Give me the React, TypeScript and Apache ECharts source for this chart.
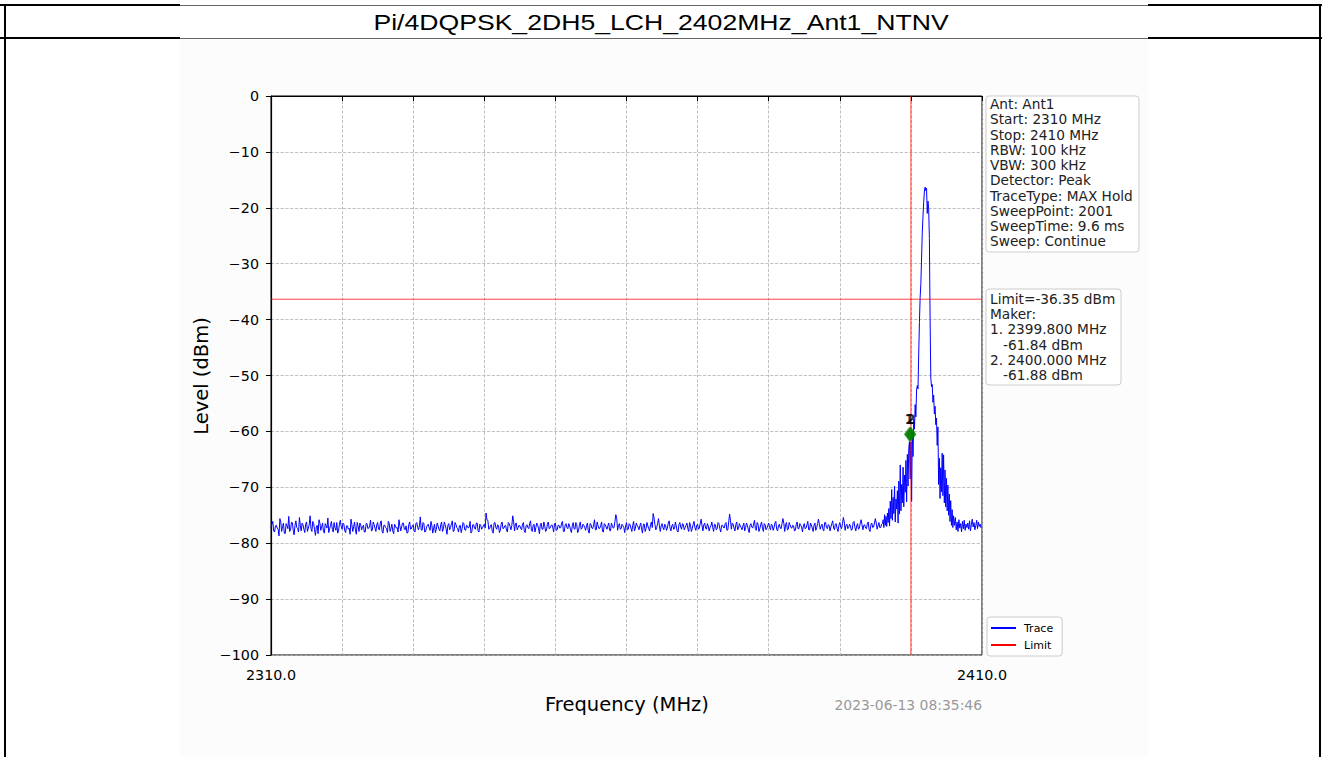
import React, { useEffect, useRef } from 'react';
import * as echarts from 'echarts';

// ---------- texts ----------
const titleText = 'Pi/4DQPSK_2DH5_LCH_2402MHz_Ant1_NTNV';
const xAxisTitle = 'Frequency (MHz)';
const yAxisTitle = 'Level (dBm)';
const timestampText = '2023-06-13 08:35:46';
const infoLines = [
  'Ant: Ant1',
  'Start: 2310 MHz',
  'Stop: 2410 MHz',
  'RBW: 100 kHz',
  'VBW: 300 kHz',
  'Detector: Peak',
  'TraceType: MAX Hold',
  'SweepPoint: 2001',
  'SweepTime: 9.6 ms',
  'Sweep: Continue',
];
const makerLines = [
  'Limit=-36.35 dBm',
  'Maker:',
  '1. 2399.800 MHz',
  '\u00a0\u00a0\u00a0-61.84 dBm',
  '2. 2400.000 MHz',
  '\u00a0\u00a0\u00a0-61.88 dBm',
];
const legendNames = ['Trace', 'Limit'];

// ---------- axes ----------
const xMin = 2310;
const xMax = 2410;
const xInterval = 10;
const xLabelsShown = [2310, 2410];
const yMin = -100;
const yMax = 0;
const yInterval = 10;

// ---------- trace ----------
const noiseStart = 2310;
const noiseStep = 0.25;
const noiseLevels = [
  -77.2, -76.1, -78.0, -76.8, -77.5, -75.6, -77.9, -76.4, -78.3, -76.9, -75.2, -77.6, -76.3, -78.5, -76.0, -77.4, -75.4, -77.8, -76.7, -78.1,
  -76.2, -77.3, -75.1, -77.9, -76.5, -78.6, -76.8, -75.8, -77.7, -76.4, -78.2, -76.9, -75.5, -77.4, -76.1, -78.0, -77.2, -76.3, -77.8, -75.9,
  -77.5, -76.6, -78.1, -76.9, -77.3, -75.7, -77.9, -76.2, -78.4, -77.0, -76.4, -77.6, -76.8, -78.0, -76.5, -77.3, -75.9, -77.7, -76.7, -77.9,
  -76.3, -77.6, -76.0, -78.2, -76.8, -77.4, -76.1, -77.9, -76.6, -78.3, -76.9, -77.2, -75.8, -77.8, -76.4, -77.5, -76.9, -78.1, -76.2, -77.4,
  -76.7, -78.0, -76.3, -77.6, -75.3, -77.7, -76.5, -77.9, -76.8, -77.3, -76.1, -78.2, -76.6, -77.5, -76.9, -77.8, -76.2, -77.4, -76.7, -78.4,
  -76.5, -77.2, -76.0, -77.8, -76.6, -77.4, -76.9, -78.1, -76.3, -77.6, -76.8, -77.3, -76.1, -77.9, -76.7, -77.5, -76.4, -78.0, -76.8, -77.2,
  -76.6, -74.6, -75.9, -77.4, -76.7, -78.2, -76.3, -77.5, -76.9, -77.7, -76.2, -77.3, -76.8, -78.0, -76.5, -77.6, -75.1, -77.8, -76.4, -77.2,
  -76.9, -77.6, -76.3, -78.1, -76.7, -77.4, -76.0, -77.9, -76.6, -77.2, -76.8, -78.3, -76.4, -77.5, -76.9, -77.7, -76.2, -77.3, -76.7, -78.0,
  -76.4, -77.6, -76.8, -77.2, -76.1, -77.9, -76.5, -77.4, -76.9, -78.1, -76.3, -77.5, -76.7, -77.8, -76.2, -77.3, -76.8, -77.7, -76.4, -78.2,
  -76.6, -77.4, -75.8, -77.6, -76.9, -77.3, -76.2, -78.0, -76.7, -77.5, -76.4, -77.8, -76.8, -77.2, -74.9, -77.7, -76.5, -77.4, -76.9, -78.1,
  -76.3, -77.5, -76.7, -77.9, -76.1, -77.3, -76.8, -77.6, -76.4, -78.2, -76.6, -77.4, -76.9, -77.8, -76.2, -74.7, -76.7, -77.2, -75.6, -77.9,
  -76.5, -77.6, -76.8, -77.3, -76.0, -77.8, -76.6, -77.4, -76.9, -78.0, -76.3, -77.5, -76.7, -77.2, -76.4, -77.9, -76.8, -77.4, -76.1, -77.7,
  -76.6, -77.3, -75.7, -77.8, -76.4, -77.5, -76.9, -77.2, -76.2, -77.9, -76.7, -77.4, -76.5, -78.0, -76.8, -77.3, -76.3, -77.6, -74.8, -77.5,
  -76.6, -77.8, -76.2, -77.4, -76.9, -77.6, -76.4, -77.2, -76.8, -78.1, -76.5, -77.3, -75.9, -77.7, -76.6, -77.4, -76.2, -77.9, -76.7, -77.3,
  -76.4, -77.6, -76.8, -77.2, -76.1, -77.8, -76.6, -77.4, -75.6, -77.9, -76.3, -77.5, -76.7, -77.3, -76.9, -77.7, -76.2, -77.4, -76.8, -78.0,
  -76.5, -77.3, -76.1, -77.6, -76.7, -77.9, -76.4, -77.2, -75.7, -77.5, -76.6, -77.8, -76.3, -77.4, -76.8, -77.1, -76.0, -77.6, -76.5, -77.9,
  -76.3, -77.4, -75.4, -77.7, -76.6, -77.2, -76.9, -77.5, -76.1, -77.8, -76.5, -77.3, -75.8, -77.6, -76.7, -77.4, -76.2, -77.9, -76.4, -77.1,
  -75.6, -77.5, -76.3, -77.2,
];
// in-between sweep points (noiseStart + noiseStep / 2 + i * noiseStep)
const noiseMidLevels = [
  -76.6, -77.8, -76.9, -77.3, -78.7, -76.2, -77.0, -78.2, -76.5, -77.4, -77.9, -76.3, -77.7, -76.8, -77.2, -78.0, -76.9, -76.4, -77.5, -76.6,
  -77.9, -76.7, -77.4, -76.1, -77.6, -77.1, -78.3, -76.4, -77.0, -77.8, -76.5, -77.3, -78.1, -76.8, -77.5, -76.3, -77.7, -78.2, -76.6, -77.0,
  -76.4, -77.8, -76.9, -77.5, -78.4, -76.7, -77.1, -77.6, -76.3, -77.9, -76.8, -77.0, -78.0, -76.5, -77.4, -76.9, -77.8, -76.2, -77.3, -76.7,
  -77.5, -76.4, -77.9, -76.8, -77.2, -78.1, -76.5, -77.4, -77.8, -76.6, -77.3, -78.0, -76.9, -77.1, -76.4, -77.6, -78.2, -76.7, -77.5, -76.9,
  -77.8, -76.5, -77.2, -76.9, -77.6, -76.3, -78.0, -77.1, -76.6, -77.7, -76.8, -77.3, -78.1, -76.4, -77.5, -76.7, -77.9, -76.2, -77.4, -76.8,
  -77.6, -76.6, -77.9, -76.3, -77.2, -78.0, -76.8, -77.4, -76.5, -77.7, -76.9, -77.1, -78.2, -76.7, -77.3, -76.4, -77.8, -76.6, -77.5, -76.9,
  -77.3, -75.8, -77.5, -76.8, -77.9, -76.4, -77.2, -76.7, -78.1, -76.6, -77.4, -76.9, -77.7, -76.3, -77.0, -76.8, -76.2, -76.5, -77.6, -76.8,
  -77.4, -76.6, -77.8, -76.9, -77.2, -76.5, -77.6, -76.8, -78.0, -76.4, -77.3, -76.7, -77.5, -76.2, -77.9, -76.6, -77.4, -76.9, -77.1, -76.5,
  -77.7, -76.8, -77.3, -76.4, -77.9, -76.7, -77.2, -76.5, -77.6, -76.9, -77.4, -76.3, -78.1, -76.8, -77.5, -76.6, -77.2, -76.9, -77.8, -76.5,
  -77.3, -76.7, -77.6, -76.2, -77.4, -76.8, -77.9, -76.5, -77.1, -76.9, -77.7, -76.4, -77.3, -76.1, -75.6, -76.8, -77.5, -76.6, -77.2, -76.9,
  -77.6, -76.5, -77.3, -76.8, -77.8, -76.4, -77.1, -76.9, -77.5, -76.6, -77.9, -76.3, -77.4, -76.7, -77.2, -75.5, -77.6, -76.5, -76.8, -76.9,
  -77.2, -76.6, -77.7, -76.4, -77.3, -76.9, -77.5, -76.2, -77.8, -76.7, -77.1, -76.5, -77.6, -76.8, -77.4, -76.3, -77.9, -76.6, -77.2, -76.8,
  -77.5, -76.4, -76.9, -76.7, -77.3, -76.5, -77.8, -76.9, -77.2, -76.6, -77.6, -76.3, -77.4, -76.8, -77.1, -76.5, -77.7, -76.2, -75.9, -76.4,
  -77.3, -76.7, -77.6, -76.5, -77.2, -76.9, -77.8, -76.4, -77.5, -76.8, -77.1, -76.6, -77.4, -76.3, -77.9, -76.7, -77.3, -76.5, -77.6, -76.8,
  -77.2, -76.6, -77.7, -76.4, -77.5, -76.9, -77.3, -76.5, -76.4, -76.7, -77.6, -76.3, -77.2, -76.8, -77.8, -76.6, -77.4, -76.5, -77.1, -76.9,
  -77.4, -76.7, -77.6, -76.4, -77.3, -76.8, -77.7, -76.5, -76.6, -76.9, -77.5, -76.3, -77.2, -76.7, -77.8, -76.5, -77.3, -76.6, -77.4, -76.8,
  -77.1, -76.5, -76.2, -76.8, -77.4, -76.6, -77.7, -76.3, -77.2, -76.9, -77.5, -76.4, -76.7, -76.8, -77.3, -76.5, -77.6, -76.7, -77.2, -76.4,
  -76.4, -76.9, -77.2, -76.6,
];
const peakStart = 2396;
const peakStep = 0.1;
const peakLevels = [
  -76.5, -75.8, -77.2, -74.9, -76.8, -75.2, -77.0, -74.6, -76.3, -73.8,
  -76.9, -72.5, -75.6, -70.4, -75.9, -71.8, -74.7, -69.8, -76.2, -72.1,
  -73.9, -70.6, -76.4, -68.9, -74.8, -66.0, -74.2, -69.5, -72.8, -66.4,
  -73.5, -67.8, -70.9, -65.2, -72.6, -64.1, -69.8, -63.0, -61.8, -68.5,
  -61.9, -72.5, -60.2, -64.5, -57.8, -59.6, -55.2, -57.4, -52.6, -51.8,
  -52.4, -46.0, -40.5, -36.0, -33.6, -29.0, -24.5, -21.5, -19.0, -17.0,
  -16.3, -16.9, -16.5, -21.0, -18.8, -20.2, -25.5, -40.0, -50.5, -52.0,
  -51.6, -54.8, -53.5, -56.9, -55.5, -58.8, -57.6, -62.5, -59.2, -69.5,
  -64.8, -72.0, -66.5, -70.8, -63.9, -71.5, -64.2, -72.8, -66.9, -73.5,
  -68.4, -74.2, -69.6, -75.0, -71.2, -76.1, -72.4, -76.8, -74.0, -77.2,
  -75.1,
];
const tailStart = 2406.125;
const tailStep = 0.125;
const tailLevels = [
  -76.8, -75.4, -77.6, -76.2, -77.9, -75.8, -77.3, -76.5, -78.0, -76.1, -77.4, -75.9, -77.7, -76.6, -77.2, -76.4,
  -77.5, -76.0, -77.8, -76.7, -75.7, -77.1, -76.3, -77.6, -76.9, -75.9, -77.4, -76.2, -77.0, -76.6, -77.3,
];

// ---------- limit and markers ----------
const limitLevel = -36.35;
const markerLineFreq = 2400;
const markerFreqs = [2399.8, 2400.0];
const markerLevels = [-60.5, -60.5];
const markerLabels = ['1', '2'];

const r3 = (v: number) => Math.round(v * 1000) / 1000;
function buildTrace(): number[][] {
  const pts: number[][] = [];
  noiseLevels.forEach((v, i) => {
    const f = r3(noiseStart + i * noiseStep);
    if (f < peakStart) pts.push([f, v]);
  });
  noiseMidLevels.forEach((v, i) => {
    const f = r3(noiseStart + noiseStep / 2 + i * noiseStep);
    if (f < peakStart) pts.push([f, v]);
  });
  peakLevels.forEach((v, i) => pts.push([r3(peakStart + i * peakStep), v]));
  tailLevels.forEach((v, i) => {
    const f = r3(tailStart + i * tailStep);
    if (f <= xMax) pts.push([f, v]);
  });
  pts.sort((a, b) => a[0] - b[0]);
  return pts;
}

const FONT = "'DejaVu Sans', sans-serif";

export default function App() {
  const ref = useRef<HTMLDivElement>(null);
  useEffect(() => {
    if (!ref.current) return;
    const chart = echarts.init(ref.current, undefined, { renderer: 'svg' });
    const trace = buildTrace();
    const option: any = {
      animation: false,
      backgroundColor: '#ffffff',
      grid: {
        left: 271,
        top: 96,
        right: 340,
        bottom: 102,
        show: true,
        backgroundColor: 'transparent',
        borderColor: '#000000',
        borderWidth: 1,
      },
      legend: {
        data: legendNames,
        orient: 'vertical',
        left: 987,
        top: 617,
        padding: [4, 9, 4, 4],
        itemGap: 3,
        itemWidth: 25,
        itemHeight: 2,
        icon: 'rect',
        backgroundColor: '#ffffff',
        borderColor: '#cccccc',
        borderWidth: 1,
        borderRadius: 3,
        textStyle: { fontFamily: FONT, fontSize: 11, color: '#000', padding: [0, 0, 0, 3], lineHeight: 14 },
        z: 20,
      },
      xAxis: {
        type: 'value',
        min: xMin,
        max: xMax,
        interval: xInterval,
        axisLine: { show: true, lineStyle: { color: '#000', width: 1.2 } },
        axisTick: { show: true, length: 5, lineStyle: { color: '#000', width: 1 } },
        axisLabel: {
          show: true,
          margin: 13,
          showMinLabel: true,
          showMaxLabel: true,
          fontFamily: FONT,
          fontSize: 14.3,
          color: '#000',
          formatter: (v: number) => (xLabelsShown.includes(v) ? v.toFixed(1) : ''),
        },
        splitLine: { show: true, lineStyle: { color: '#b0b0b0', width: 0.8, type: 'dashed' } },
      },
      yAxis: {
        type: 'value',
        min: yMin,
        max: yMax,
        interval: yInterval,
        axisLine: { show: true, lineStyle: { color: '#000', width: 1.2 } },
        axisTick: { show: true, length: 5, lineStyle: { color: '#000', width: 1 } },
        axisLabel: {
          margin: 12,
          fontFamily: FONT,
          fontSize: 14.3,
          color: '#000',
          formatter: (v: number) => (v < 0 ? '\u2212' + Math.abs(v) : String(v)),
        },
        splitLine: { show: true, lineStyle: { color: '#b0b0b0', width: 0.8, type: 'dashed' } },
      },
      series: [
        {
          name: 'Trace',
          type: 'line',
          data: trace,
          symbol: 'none',
          showSymbol: false,
          color: '#0000ff',
          lineStyle: { width: 1, color: '#0000ff' },
          z: 3,
        },
        {
          name: 'Limit',
          type: 'line',
          data: [
            [xMin, limitLevel],
            [xMax, limitLevel],
          ],
          symbol: 'none',
          color: '#ff0000',
          lineStyle: { width: 1, color: '#ff0000', opacity: 0.75 },
          z: 4,
        },
        {
          name: 'MarkerFreq',
          type: 'line',
          data: [
            [markerLineFreq, yMin],
            [markerLineFreq, yMax],
          ],
          symbol: 'none',
          color: '#ff0000',
          lineStyle: { width: 1, color: '#ff0000', opacity: 0.75 },
          z: 4,
        },
        {
          name: 'Markers',
          type: 'scatter',
          data: markerFreqs.map((f, i) => [f, markerLevels[i]]),
          symbol: 'diamond',
          symbolSize: [11, 15],
          itemStyle: { color: '#008000' },
          label: {
            show: true,
            position: 'top',
            distance: 1,
            formatter: (p: any) => markerLabels[p.dataIndex],
            fontFamily: FONT,
            fontSize: 14,
            fontWeight: 'bold',
            color: '#000',
          },
          z: 5,
        },
      ],
      graphic: [
        {
          type: 'rect',
          z: -10,
          silent: true,
          shape: { x: 180, y: 39, width: 968, height: 718 },
          style: { fill: '#fcfcfc' },
        },
        {
          type: 'rect',
          z: -9,
          silent: true,
          shape: { x: 271, y: 96, width: 711, height: 559 },
          style: { fill: '#ffffff' },
        },
        { type: 'line', z: 10, shape: { x1: 0, y1: 5, x2: 180, y2: 5 }, style: { stroke: '#000', lineWidth: 2 } },
        { type: 'line', z: 10, shape: { x1: 1148, y1: 5, x2: 1322, y2: 5 }, style: { stroke: '#000', lineWidth: 2 } },
        { type: 'line', z: 10, shape: { x1: 180, y1: 5.5, x2: 1148, y2: 5.5 }, style: { stroke: '#666', lineWidth: 1 } },
        { type: 'line', z: 10, shape: { x1: 0, y1: 38, x2: 180, y2: 38 }, style: { stroke: '#000', lineWidth: 2 } },
        { type: 'line', z: 10, shape: { x1: 1148, y1: 38, x2: 1322, y2: 38 }, style: { stroke: '#000', lineWidth: 2 } },
        { type: 'line', z: 10, shape: { x1: 180, y1: 38.5, x2: 1148, y2: 38.5 }, style: { stroke: '#666', lineWidth: 1 } },
        { type: 'line', z: 10, shape: { x1: 5, y1: 4, x2: 5, y2: 757 }, style: { stroke: '#000', lineWidth: 2 } },
        { type: 'line', z: 10, shape: { x1: 1320, y1: 4, x2: 1320, y2: 757 }, style: { stroke: '#000', lineWidth: 2 } },
        {
          type: 'text',
          z: 10,
          x: 661,
          y: 22,
          scaleX: 1.21,
          style: {
            text: titleText,
            fontFamily: "'Liberation Sans', Arial, sans-serif",
            fontSize: 22,
            fill: '#000',
            align: 'center',
            verticalAlign: 'middle',
          },
        },
        {
          type: 'text',
          z: 10,
          x: 201,
          y: 376,
          rotation: Math.PI / 2,
          style: {
            text: yAxisTitle,
            fontFamily: FONT,
            fontSize: 19.5,
            fill: '#000',
            align: 'center',
            verticalAlign: 'middle',
          },
        },
        {
          type: 'text',
          z: 10,
          x: 627,
          y: 704,
          style: {
            text: xAxisTitle,
            fontFamily: FONT,
            fontSize: 19.5,
            fill: '#000',
            align: 'center',
            verticalAlign: 'middle',
          },
        },
        {
          type: 'text',
          z: 10,
          x: 982,
          y: 705,
          style: {
            text: timestampText,
            fontFamily: FONT,
            fontSize: 13.9,
            fill: '#999999',
            align: 'right',
            verticalAlign: 'middle',
          },
        },
        {
          type: 'rect',
          z: 20,
          shape: { x: 986, y: 96, width: 153, height: 156, r: 3 },
          style: { fill: '#ffffff', stroke: '#cccccc', lineWidth: 1 },
        },
        {
          type: 'text',
          z: 21,
          x: 990,
          y: 96.5,
          style: {
            text: infoLines.join('\n'),
            fontFamily: FONT,
            fontSize: 13.7,
            lineHeight: 15.25,
            fill: '#222',
            align: 'left',
            verticalAlign: 'top',
          },
        },
        {
          type: 'rect',
          z: 20,
          shape: { x: 986, y: 289, width: 135, height: 96, r: 3 },
          style: { fill: '#ffffff', stroke: '#cccccc', lineWidth: 1 },
        },
        {
          type: 'text',
          z: 21,
          x: 990,
          y: 291.5,
          style: {
            text: makerLines.join('\n'),
            fontFamily: FONT,
            fontSize: 13.7,
            lineHeight: 15.15,
            fill: '#222',
            align: 'left',
            verticalAlign: 'top',
          },
        },
      ],
    };
    chart.setOption(option);
    return () => chart.dispose();
  }, []);
  return (
    <div
      ref={ref}
      style={{ position: 'absolute', left: 0, top: 0, width: 1322, height: 757 }}
    />
  );
}
